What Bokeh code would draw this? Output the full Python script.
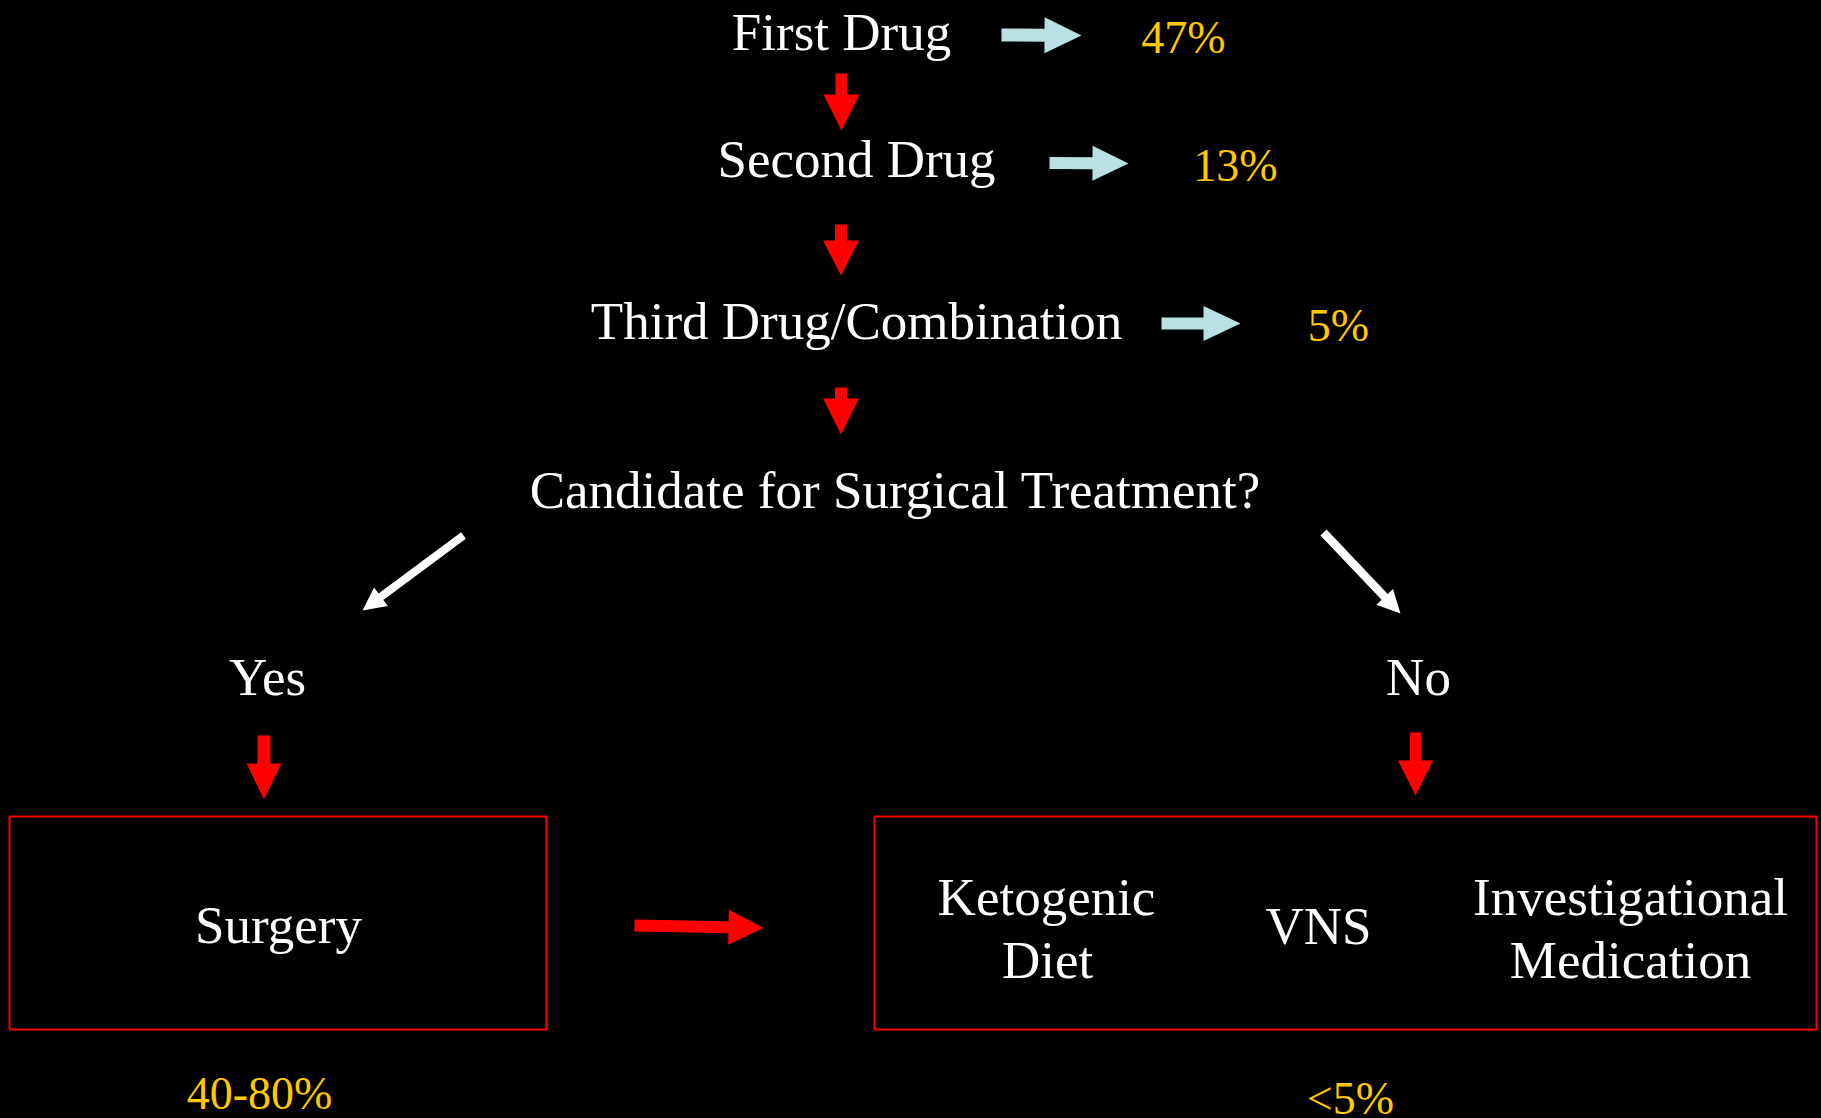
import numpy as np
from bokeh.plotting import figure
from bokeh.models import Range1d, ColumnDataSource
from bokeh.core.properties import value
from bokeh.embed import file_html
from bokeh.resources import INLINE

# ---------------- content (data) ----------------
steps = ["First Drug", "Second Drug", "Third Drug/Combination"]
step_rates = ["47%", "13%", "5%"]
question = ["Candidate for Surgical Treatment?"]
branches = ["Yes", "No"]
surgery_label = ["Surgery"]
surgery_rate = ["40-80%"]
alt_labels = ["Ketogenic", "Diet", "VNS", "Investigational", "Medication"]
alt_rate = ["<5%"]

# ---------------- layout (page pixels; y = text baseline) ----------------
step_x = [841, 856, 856]
step_y = [48, 175, 337]
rate_x = [1183, 1235, 1338]
rate_y = [52, 180, 340]
question_x = [895]
question_y = [506]
branch_x = [267, 1418]
branch_y = [693, 693]
surgery_xy = ([278], [941])
surgery_rate_xy = ([259], [1108])
alt_x = [1046, 1047, 1318, 1630, 1630]
alt_y = [913, 976, 942, 913, 976]
alt_rate_xy = ([1350], [1113])

# boxes: left, right, top, bottom
box_l = [9, 874]
box_r = [546, 1816]
box_t = [816, 816]
box_b = [1029, 1029]

# arrows: x0, y0, x1, y1, shaft width, head width, head length, colour
CYAN = "#B9E0E2"
RED = "#FF0000"
WHITE = "#FFFFFF"
arrows = [
    (1001, 34.5, 1081, 35, 13, 36, 37, CYAN),
    (1049, 162.5, 1128, 163, 12, 35, 36, CYAN),
    (1161, 323, 1240, 323, 12, 35, 37, CYAN),
    (841, 73, 841, 130, 12, 36, 36, RED),
    (840.5, 224, 840.5, 275, 12, 36, 35, RED),
    (840.5, 387, 840.5, 434, 12, 36, 36, RED),
    (263.5, 735, 263.5, 799, 13, 35, 36, RED),
    (1415, 732, 1415, 795, 11, 35, 35, RED),
    (634, 925, 763, 927.5, 12, 35, 35, RED),
    (463, 535, 362, 610, 8, 23, 23, WHITE),
    (1323, 532, 1400, 613, 8.5, 23, 23, WHITE),
]

GOLD = "#FFC800"
FONT = value("Liberation Serif")
BASE_SHIFT = 0.32  # em; renderer places the baseline this far below y


def arrow_poly(x0, y0, x1, y1, sw, hw, hl):
    t = np.array([x0, y0], float)
    h = np.array([x1, y1], float)
    d = h - t
    u = d / np.hypot(*d)
    n = np.array([-u[1], u[0]])
    b = h - u * hl
    pts = [t + n * sw / 2, b + n * sw / 2, b + n * hw / 2, h,
           b - n * hw / 2, b - n * sw / 2, t - n * sw / 2]
    return [q[0] for q in pts], [q[1] for q in pts]


W, H = 1821, 1118
p = figure(width=W, height=H, output_backend="svg", toolbar_location=None,
           x_range=Range1d(0, W), y_range=Range1d(H, 0),
           x_axis_type=None, y_axis_type=None, min_border=0)
p.grid.visible = False
p.outline_line_color = None
p.background_fill_color = "black"
p.border_fill_color = "black"

# arrows
xs, ys, cs = [], [], []
for a in arrows:
    px, py = arrow_poly(*a[:7])
    xs.append(px)
    ys.append(py)
    cs.append(a[7])
p.patches(xs=xs, ys=ys, fill_color=cs, line_color=None)

# boxes
p.quad(left=box_l, right=box_r, top=box_t, bottom=box_b,
       fill_alpha=0, line_color=RED, line_width=2)


def txt(x, y, labels, color, size):
    yy = [v - BASE_SHIFT * size for v in y]
    src = ColumnDataSource(dict(x=x, y=yy, t=labels))
    p.text(x="x", y="y", text="t", source=src, text_align="center",
           text_baseline="alphabetic", text_font=FONT,
           text_font_size=f"{size}px", text_color=color)


txt(step_x, step_y, steps, "white", 53)
txt(rate_x, rate_y, step_rates, GOLD, 46)
txt(question_x, question_y, question, "white", 53)
txt(branch_x, branch_y, branches, "white", 53)
txt(surgery_xy[0], surgery_xy[1], surgery_label, "white", 53)
txt(surgery_rate_xy[0], surgery_rate_xy[1], surgery_rate, GOLD, 46)
txt(alt_x, alt_y, alt_labels, "white", 53)
txt(alt_rate_xy[0], alt_rate_xy[1], alt_rate, GOLD, 46)

html = file_html(p, INLINE)
html = html.replace("</head>", "<style>html,body{background:#000;}</style></head>", 1)
open("out.html", "w").write(html)
